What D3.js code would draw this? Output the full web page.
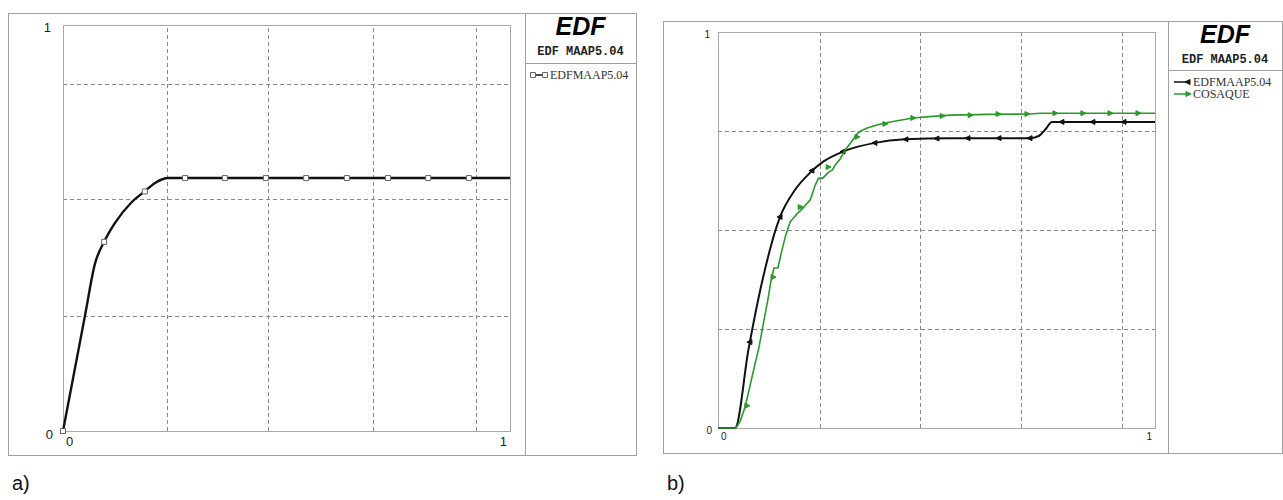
<!DOCTYPE html>
<html>
<head>
<meta charset="utf-8">
<script src="https://cdn.jsdelivr.net/npm/d3@7"></script>
<style>
  body { margin: 0; background: #fff; }
  svg { display: block; }
</style>
</head>
<body>
<svg id="chart" width="1283" height="500"></svg>
<script>
// ---- data ----
// panel a) single MAAP curve
let aCurve = [[0, 0], [0.049, 0.283], [0.072, 0.414], [0.092, 0.466], [0.116, 0.512], [0.154, 0.564],
  [0.181, 0.589], [0.206, 0.611], [0.235, 0.623], [0.5, 0.623], [1, 0.623]];
let aMarks = [[0, 0], [0.092, 0.466], [0.183, 0.59], [0.273, 0.623], [0.362, 0.623], [0.454, 0.623],
  [0.544, 0.623], [0.635, 0.623], [0.727, 0.623], [0.817, 0.623], [0.908, 0.623]];
let aGridX = [0.233, 0.459, 0.694, 0.924];
let aGridY = [0.283, 0.571, 0.855];

// panel b) MAAP vs COSAQUE
let bMaap = [[0, 0], [0.039, 0], [0.070, 0.200], [0.100, 0.365], [0.142, 0.533], [0.176, 0.601],
  [0.211, 0.645], [0.240, 0.672], [0.291, 0.700], [0.359, 0.720], [0.428, 0.729], [0.531, 0.732],
  [0.715, 0.732], [0.735, 0.738], [0.750, 0.755], [0.764, 0.773], [0.85, 0.773], [1, 0.773]];
let bMaapMarks = [[0.073, 0.217], [0.142, 0.533], [0.215, 0.650], [0.286, 0.698], [0.359, 0.720],
  [0.430, 0.729], [0.501, 0.731], [0.572, 0.732], [0.643, 0.732], [0.714, 0.732], [0.787, 0.773],
  [0.858, 0.773], [0.929, 0.773]];
let bCosaque = [[0, 0], [0.041, 0], [0.050, 0.015], [0.062, 0.053], [0.075, 0.115], [0.087, 0.172],
  [0.094, 0.205], [0.101, 0.247], [0.114, 0.323], [0.121, 0.370], [0.128, 0.404], [0.137, 0.404],
  [0.146, 0.448], [0.155, 0.487], [0.165, 0.520], [0.180, 0.540], [0.195, 0.556], [0.211, 0.576],
  [0.222, 0.612], [0.230, 0.631], [0.240, 0.631], [0.252, 0.645], [0.262, 0.652], [0.268, 0.664],
  [0.280, 0.680], [0.291, 0.702], [0.305, 0.722], [0.320, 0.745], [0.330, 0.752], [0.343, 0.758],
  [0.360, 0.764], [0.382, 0.770], [0.410, 0.776], [0.446, 0.783], [0.490, 0.787], [0.531, 0.790],
  [0.620, 0.792], [0.714, 0.793], [0.737, 0.795], [1, 0.795]];
let bCosaqueMarks = [[0.066, 0.056], [0.126, 0.381], [0.188, 0.558], [0.252, 0.659], [0.318, 0.735],
  [0.382, 0.768], [0.446, 0.783], [0.513, 0.788], [0.577, 0.790], [0.641, 0.793], [0.707, 0.793],
  [0.771, 0.795], [0.835, 0.795], [0.897, 0.795], [0.961, 0.795]];
let bGridX = [0.233, 0.462, 0.693, 0.924];
let bGridY = [0.25, 0.5, 0.75];

let svg = d3.select("#chart");
let frameCol = "#a0a0a0";

// draws one framed panel (outer box, plot, legend column)
function drawPanel(p) {
  let g = svg.append("g");
  let x = d3.scaleLinear().domain([0, 1]).range([p.plot[0], p.plot[2]]);
  let y = d3.scaleLinear().domain([0, 1]).range([p.plot[3], p.plot[1]]);

  // outer frame + legend column
  g.append("rect")
    .attr("x", p.outer[0] + 0.5).attr("y", p.outer[1] + 0.5)
    .attr("width", p.outer[2] - p.outer[0]).attr("height", p.outer[3] - p.outer[1])
    .attr("fill", "none").attr("stroke", frameCol);
  g.append("line")
    .attr("x1", p.legX + 0.5).attr("x2", p.legX + 0.5)
    .attr("y1", p.outer[1]).attr("y2", p.outer[3])
    .attr("stroke", frameCol);
  g.append("line")
    .attr("x1", p.legX).attr("x2", p.outer[2])
    .attr("y1", p.legLineY + 0.5).attr("y2", p.legLineY + 0.5)
    .attr("stroke", frameCol);

  // grid
  g.append("g").selectAll("line").data(p.gridX).join("line")
    .attr("x1", d => Math.round(x(d)) + 0.5).attr("x2", d => Math.round(x(d)) + 0.5)
    .attr("y1", y(0)).attr("y2", y(1))
    .attr("stroke", "#8a8a8a").attr("stroke-dasharray", "4,3");
  g.append("g").selectAll("line").data(p.gridY).join("line")
    .attr("y1", d => Math.round(y(d)) + 0.5).attr("y2", d => Math.round(y(d)) + 0.5)
    .attr("x1", x(0)).attr("x2", x(1))
    .attr("stroke", "#8a8a8a").attr("stroke-dasharray", "4,3");

  // plot border
  g.append("rect")
    .attr("x", x(0) + 0.5).attr("y", y(1) + 0.5)
    .attr("width", x(1) - x(0)).attr("height", y(0) - y(1))
    .attr("fill", "none").attr("stroke", "#a8a8a8");

  // tick labels: only min and max
  let fs = p.tickSize;
  let labs = g.append("g").attr("fill", "#222")
    .attr("font-family", "Liberation Sans, Arial, sans-serif").attr("font-size", fs);
  labs.append("text").text("1").attr("x", x(0) - p.yLabDx).attr("y", y(1) + fs * 0.55)
    .attr("text-anchor", "end");
  labs.append("text").text("0").attr("x", x(0) - p.yLabDx + 2).attr("y", y(0) + fs * 0.6)
    .attr("text-anchor", "end");
  labs.append("text").text("0").attr("x", x(0) + 3).attr("y", y(0) + fs + 2);
  labs.append("text").text("1").attr("x", x(1) - 3).attr("y", y(0) + fs + 2)
    .attr("text-anchor", "end");

  p.series.forEach(s => {
    let line = d3.line().x(d => x(d[0])).y(d => y(d[1])).curve(s.smooth ? d3.curveMonotoneX : d3.curveLinear);
    g.append("path").datum(s.values)
      .attr("d", line).attr("fill", "none")
      .attr("stroke", s.color).attr("stroke-width", s.width)
      .attr("stroke-linejoin", "round");
    g.append("g").selectAll("path").data(s.marks).join("path")
      .attr("transform", d => `translate(${x(d[0])},${y(d[1])})`)
      .attr("d", markerPath(s.marker))
      .attr("fill", s.marker == "square" ? "#fff" : s.color)
      .attr("stroke", s.marker == "square" ? "#666" : s.color)
      .attr("stroke-width", 1);
  });

  // legend column
  let cx = (p.legX + p.outer[2]) / 2;
  g.append("text").text("EDF").attr("x", cx).attr("y", p.outer[1] + 22)
    .attr("text-anchor", "middle").attr("font-size", 25)
    .attr("font-weight", "bold").attr("font-style", "italic")
    .attr("font-family", "Liberation Sans, Arial, sans-serif");
  g.append("text").text("EDF MAAP5.04").attr("x", cx).attr("y", p.outer[1] + 42)
    .attr("text-anchor", "middle").attr("font-size", 12)
    .attr("font-weight", "bold")
    .attr("font-family", "Liberation Mono, Courier New, monospace").attr("fill", "#222");

  p.series.forEach((s, i) => {
    let ly = p.legLineY + 12 + i * 12;
    let lx = p.legX + 6;
    g.append("line").attr("x1", lx).attr("x2", lx + 15).attr("y1", ly).attr("y2", ly)
      .attr("stroke", s.color).attr("stroke-width", 1.5);
    let ends = s.marker == "square" ? [lx + 2, lx + 14] : [lx + 14];
    g.append("g").selectAll("path").data(ends).join("path")
      .attr("transform", d => `translate(${d},${ly})`)
      .attr("d", markerPath(s.marker))
      .attr("fill", s.marker == "square" ? "#fff" : s.color)
      .attr("stroke", s.marker == "square" ? "#666" : s.color);
    g.append("text").text(s.name).attr("x", lx + 19).attr("y", ly + 4)
      .attr("font-size", 12).attr("fill", "#333")
      .attr("font-family", "Liberation Serif, Times New Roman, serif");
  });

  g.append("text").text(p.tag).attr("x", p.outer[0] + 4).attr("y", 490)
    .attr("font-size", 20).attr("fill", "#111")
    .attr("font-family", "Liberation Sans, Arial, sans-serif");
}

function markerPath(kind) {
  if (kind == "square") return "M-2.5,-2.5h5v5h-5z";
  if (kind == "left") return "M-3,0L2,-2.5L2,2.5Z";
  return "M3,0L-2,-2.5L-2,2.5Z";
}

drawPanel({
  outer: [8, 13, 636, 455], legX: 525, legLineY: 63,
  plot: [63, 25, 510, 431], gridX: aGridX, gridY: aGridY,
  tickSize: 13, yLabDx: 12, tag: "a)",
  series: [{ name: "EDFMAAP5.04", values: aCurve, marks: aMarks, color: "#111", width: 2.4, marker: "square", smooth: true }]
});

drawPanel({
  outer: [663, 21, 1282, 453], legX: 1168, legLineY: 70,
  plot: [718, 32, 1155, 428], gridX: bGridX, gridY: bGridY,
  tickSize: 10, yLabDx: 8, tag: "b)",
  series: [
    { name: "EDFMAAP5.04", values: bMaap, marks: bMaapMarks, color: "#111", width: 2, marker: "left", smooth: true },
    { name: "COSAQUE", values: bCosaque, marks: bCosaqueMarks, color: "#2a9a2a", width: 1.6, marker: "right", smooth: false }
  ]
});
</script>
</body>
</html>
